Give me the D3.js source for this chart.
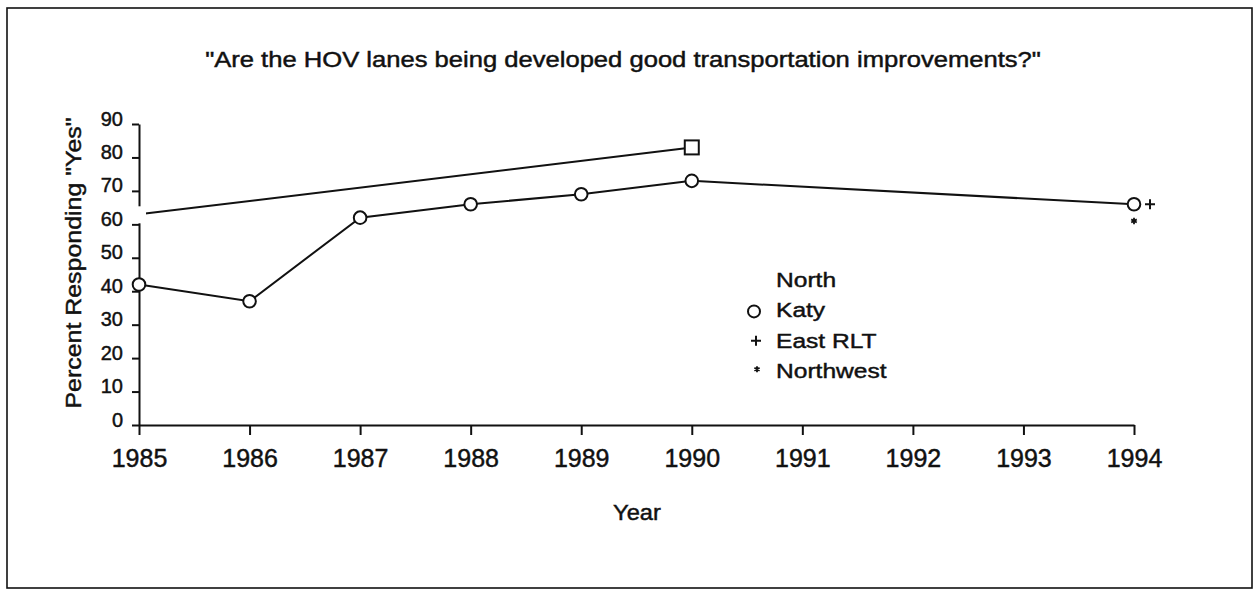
<!DOCTYPE html>
<html>
<head>
<meta charset="utf-8">
<script src="https://cdn.jsdelivr.net/npm/d3@7"></script>
<style>
  html, body { margin: 0; padding: 0; background: #fff; }
  svg { display: block; }
  text { font-family: "Liberation Sans", Arial, sans-serif; fill: #111; stroke: #111; stroke-width: 0.45px; }
</style>
</head>
<body>
<svg id="chart" width="1260" height="590"></svg>
<script>
// Survey results: share of respondents answering "Yes"
const years = [1985, 1986, 1987, 1988, 1989, 1990, 1991, 1992, 1993, 1994];
const yTicks = [0, 10, 20, 30, 40, 50, 60, 70, 80, 90];

const northYears = [1985, 1990];
const northValues = [63, 83];

const katyYears = [1985, 1986, 1987, 1988, 1989, 1990, 1994];
const katyValues = [42, 37, 62, 66, 69, 73, 66];

const eastRltYears = [1994];
const eastRltValues = [66];

const northwestYears = [1994];
const northwestValues = [61];

const legendLabels = ["North", "Katy", "East RLT", "Northwest"];
const titleText = "\"Are the HOV lanes being developed good transportation improvements?\"";
const xTitle = "Year";
const yTitle = "Percent Responding \"Yes\"";

const ink = "#111";
const svg = d3.select("#chart");

// frame
svg.append("rect")
  .attr("x", 7).attr("y", 8).attr("width", 1245).attr("height", 580)
  .attr("fill", "#fff").attr("stroke", ink).attr("stroke-width", 1.6);

const x = d3.scaleLinear().domain([1985, 1994]).range([139, 1134]);
const y = d3.scaleLinear().domain([0, 90]).range([425, 124]);

// helper: horizontally widened text
function wideText(g, str, px, py, size, sx, anchor, rotate) {
  return g.append("text")
    .attr("transform", `translate(${px},${py})` + (rotate ? ` rotate(${rotate})` : "") + ` scale(${sx},1)`)
    .attr("font-size", size)
    .attr("text-anchor", anchor)
    .text(str);
}

// title
wideText(svg, titleText, 623, 67, 21.5, 1.19, "middle");

// axes
const yAxis = svg.append("g")
  .attr("transform", `translate(${x(1985)},0)`)
  .call(d3.axisLeft(y).tickValues(yTicks).tickSize(7).tickSizeOuter(0).tickPadding(9).tickFormat(d3.format("d")));
yAxis.selectAll("text").attr("font-size", 20).attr("dy", "0.05em").attr("fill", ink);

const xAxis = svg.append("g")
  .attr("transform", `translate(0,${y(0)})`)
  .call(d3.axisBottom(x).tickValues(years).tickSize(10).tickSizeOuter(0).tickPadding(14).tickFormat(d3.format("d")));
xAxis.selectAll("text").attr("font-size", 25).attr("fill", ink);

[yAxis, xAxis].forEach(a => {
  a.selectAll("path, line").attr("stroke", ink).attr("stroke-width", 2);
});

// axis titles
wideText(svg, xTitle, 637, 520, 21.5, 1.1, "middle");
wideText(svg, yTitle, 81, 263, 21.5, 1.16, "middle", -90);

const line = d3.line().x(d => x(d[0])).y(d => y(d[1]));

// North series (squares); the first marker is faded and shows only as a white patch
const northPts = northYears.map((yr, i) => [yr, northValues[i]]);
svg.append("path").datum(northPts)
  .attr("d", line).attr("fill", "none").attr("stroke", ink).attr("stroke-width", 2);
svg.selectAll(".north-mk").data(northPts).enter().append("rect")
  .attr("class", "north-mk")
  .attr("x", d => x(d[0]) - 7).attr("y", (d, i) => y(d[1]) - (i === 0 ? 8 : 7))
  .attr("width", 14).attr("height", (d, i) => i === 0 ? 17 : 14)
  .attr("fill", "#fff")
  .attr("stroke", (d, i) => i === 0 ? "none" : ink).attr("stroke-width", 2);

// Katy series (circles)
const katyPts = katyYears.map((yr, i) => [yr, katyValues[i]]);
svg.append("path").datum(katyPts)
  .attr("d", line).attr("fill", "none").attr("stroke", ink).attr("stroke-width", 2);
svg.selectAll(".katy-mk").data(katyPts).enter().append("circle")
  .attr("class", "katy-mk")
  .attr("cx", d => x(d[0])).attr("cy", d => y(d[1])).attr("r", 6.3)
  .attr("fill", "#fff").attr("stroke", ink).attr("stroke-width", 2);

// marker shapes
function plusPath(cx, cy, s) {
  return `M${cx - s},${cy}H${cx + s}M${cx},${cy - s}V${cy + s}`;
}
function starPath(cx, cy, s) {
  let p = "";
  for (let k = 0; k < 3; k++) {
    const a = Math.PI / 2 + k * Math.PI / 3;
    p += `M${cx - s * Math.cos(a)},${cy - s * Math.sin(a)}L${cx + s * Math.cos(a)},${cy + s * Math.sin(a)}`;
  }
  return p;
}

// East RLT (+), drawn beside the shared 1994 position
eastRltYears.forEach((yr, i) => {
  svg.append("path").attr("d", plusPath(x(yr) + 16, y(eastRltValues[i]), 5))
    .attr("stroke", ink).attr("stroke-width", 2).attr("fill", "none");
});
// Northwest (*)
northwestYears.forEach((yr, i) => {
  svg.append("path").attr("d", starPath(x(yr), y(northwestValues[i]), 3.2))
    .attr("stroke", ink).attr("stroke-width", 1.8).attr("fill", "none");
});

// legend
const lg = svg.append("g");
const legendX = 776, legendY0 = 287, legendStep = 30.4;
legendLabels.forEach((lab, i) => {
  wideText(lg, lab, legendX, legendY0 + i * legendStep, 21, 1.17, "start");
});
lg.append("circle").attr("cx", 754).attr("cy", legendY0 + legendStep - 6).attr("r", 6)
  .attr("fill", "#fff").attr("stroke", ink).attr("stroke-width", 2);
lg.append("path").attr("d", plusPath(756, legendY0 + 2 * legendStep - 7, 5))
  .attr("stroke", ink).attr("stroke-width", 2);
lg.append("path").attr("d", starPath(757, legendY0 + 3 * legendStep - 9, 3))
  .attr("stroke", ink).attr("stroke-width", 1.8);
</script>
</body>
</html>
